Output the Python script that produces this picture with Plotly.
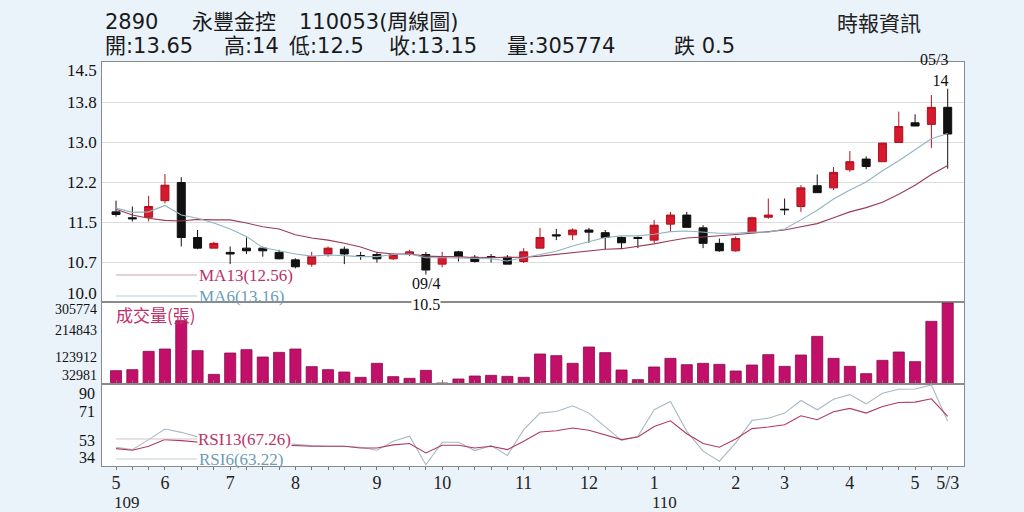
import plotly.graph_objects as go

# ---------------- data ----------------
weeks = list(range(52))
opens = [11.69, 11.58, 11.59, 11.90, 12.24, 11.21, 11.01, 10.93, 11.01, 11.01,
         10.93, 10.79, 10.71, 10.90, 10.99, 10.87, 10.89, 10.81, 10.89, 10.89,
         10.71, 10.94, 10.84, 10.85, 10.84, 10.76, 11.01, 11.26, 11.26, 11.35,
         11.30, 11.21, 11.21, 11.16, 11.46, 11.63, 11.39, 11.10, 10.96, 11.31,
         11.59, 11.74, 11.79, 12.18, 12.14, 12.48, 12.68, 12.63, 12.99, 13.36,
         13.33, 13.65]
highs = [11.90, 11.79, 11.99, 12.40, 12.34, 11.35, 11.13, 11.04, 11.21, 11.04,
         10.98, 10.82, 10.94, 11.04, 11.04, 10.94, 10.94, 10.91, 10.98, 10.94,
         10.94, 10.96, 10.88, 10.90, 10.88, 11.01, 11.39, 11.37, 11.38, 11.39,
         11.35, 11.23, 11.23, 11.54, 11.69, 11.69, 11.44, 11.19, 11.23, 11.60,
         11.94, 11.94, 12.19, 12.39, 12.53, 12.83, 12.73, 12.98, 13.57, 13.52,
         13.88, 14.00]
lows = [11.60, 11.51, 11.51, 11.85, 11.04, 10.99, 11.01, 10.71, 10.90, 10.85,
        10.80, 10.63, 10.66, 10.85, 10.71, 10.79, 10.74, 10.79, 10.86, 10.50,
        10.65, 10.76, 10.74, 10.74, 10.71, 10.73, 11.01, 11.16, 11.16, 11.11,
        10.99, 10.99, 11.01, 11.10, 11.32, 11.40, 11.01, 10.94, 10.94, 11.31,
        11.56, 11.63, 11.69, 12.05, 12.10, 12.44, 12.49, 12.63, 12.99, 13.30,
        12.89, 12.50]
closes = [11.64, 11.56, 11.79, 12.19, 11.21, 11.01, 11.10, 10.90, 10.96, 10.96,
          10.81, 10.66, 10.85, 11.01, 10.90, 10.86, 10.81, 10.89, 10.94, 10.60,
          10.85, 10.85, 10.76, 10.84, 10.71, 10.94, 11.21, 11.24, 11.35, 11.31,
          11.21, 11.11, 11.19, 11.44, 11.63, 11.40, 11.10, 10.96, 11.19, 11.58,
          11.63, 11.73, 12.14, 12.05, 12.43, 12.63, 12.54, 12.98, 13.29, 13.30,
          13.65, 13.15]
ma6 = [11.76, 11.68, 11.69, 11.81, 11.63, 11.57, 11.48, 11.37, 11.23, 11.02,
       10.96, 10.90, 10.86, 10.88, 10.87, 10.85, 10.85, 10.89, 10.90, 10.83,
       10.83, 10.82, 10.82, 10.81, 10.77, 10.83, 10.89, 10.95, 11.05, 11.13,
       11.21, 11.24, 11.24, 11.27, 11.32, 11.33, 11.31, 11.29, 11.29, 11.31,
       11.31, 11.37, 11.54, 11.72, 11.93, 12.10, 12.25, 12.46, 12.65, 12.86,
       13.06, 13.16]
ma13 = [11.74, 11.63, 11.57, 11.53, 11.52, 11.55, 11.54, 11.54, 11.48, 11.41,
        11.37, 11.26, 11.20, 11.16, 11.10, 11.03, 10.93, 10.90, 10.90, 10.86,
        10.85, 10.85, 10.83, 10.83, 10.84, 10.84, 10.86, 10.89, 10.92, 10.96,
        10.99, 11.00, 11.04, 11.09, 11.15, 11.20, 11.22, 11.24, 11.26, 11.29,
        11.32, 11.35, 11.41, 11.47, 11.58, 11.69, 11.77, 11.87, 12.02, 12.19,
        12.39, 12.56]
volume = [50300, 54100, 123300, 132100, 239000, 125800, 36500, 117000, 129600, 101900,
          119500, 132100, 65400, 54100, 45300, 25200, 78000, 27700, 21400, 51600,
          3800, 18900, 30200, 32700, 28900, 25200, 113200, 106900, 78000, 139600,
          118300, 52800, 16400, 64200, 96900, 73000, 78000, 74200, 49100, 71700,
          110700, 66700, 109400, 179900, 96900, 66700, 39000, 89300, 120800, 84300,
          236500, 305774]
rsi6 = [42.2, 40.3, 48.4, 57.0, 54.3, 50.5, 47.0, 45.7, 45.2, 44.4,
        45.7, 44.4, 43.5, 43.0, 43.0, 42.2, 39.8, 47.0, 51.1, 28.0,
        46.2, 46.2, 39.5, 43.5, 35.5, 56.5, 69.9, 71.2, 75.8, 69.9,
        59.1, 47.8, 51.1, 72.6, 79.3, 55.1, 39.0, 30.9, 45.7, 64.0,
        65.8, 69.9, 80.1, 72.6, 81.2, 84.9, 77.4, 86.0, 89.2, 89.5,
        92.7, 63.22]
rsi13 = [41.1, 39.8, 43.0, 48.4, 47.6, 46.2, 45.2, 44.4, 44.1, 43.5,
         44.1, 43.5, 43.0, 43.0, 43.0, 41.6, 41.6, 44.1, 45.2, 37.6,
         43.8, 43.8, 41.6, 43.0, 40.3, 47.0, 54.6, 55.6, 57.8, 56.0,
         52.4, 48.4, 50.5, 59.1, 63.7, 53.2, 45.2, 42.2, 48.9, 57.3,
         58.6, 60.5, 67.7, 64.5, 71.0, 73.7, 69.9, 75.3, 78.5, 78.8,
         81.5, 67.26]

x_tick_pos = [0, 3, 7, 11, 16, 20, 25, 29, 33, 38, 41, 45, 49, 51]
x_tick_text = ['5', '6', '7', '8', '9', '10', '11', '12', '1', '2', '3', '4', '5', '5/3']
year_pos = [0, 33]
year_text = ['109', '110']
price_ticks = [10.0, 10.75, 11.5, 12.25, 13.0, 13.75, 14.5]
price_tick_text = ['10.0', '10.7', '11.5', '12.2', '13.0', '13.8', '14.5']
vol_ticks = [32981, 123912, 214843, 305774]
vol_tick_text = ['32981', '123912', '214843', '305774']
rsi_ticks = [34, 52.67, 71.33, 90]
rsi_tick_text = ['34', '53', '71', '90']

head1 = ['2890', '永豐金控', '110053(周線圖)']
head2 = ['開:13.65', '高:14', '低:12.5', '收:13.15', '量:305774', '跌 0.5']
source_text = '時報資訊'
low_date, high_date = '09/4', '05/3'

# ---------------- layout helpers ----------------
W, H = 1024, 512
L, R, T, B = 102, 60, 62, 46
PW, PH = W - L - R, H - T - B


def py(px):
    return (H - B - px) / PH


def pxx(px):
    return (px - L) / PW


SERIF = 'Liberation Serif, Times New Roman, serif'
SANS = 'DejaVu Sans, Noto Sans CJK TC, sans-serif'
CJK = 'Noto Sans CJK TC, sans-serif'

fig = go.Figure()

fig.add_trace(go.Candlestick(
    x=weeks, open=opens, high=highs, low=lows, close=closes,
    increasing=dict(line=dict(color='#b3101f', width=1), fillcolor='#d41a2c'),
    decreasing=dict(line=dict(color='#111111', width=1), fillcolor='#111111'),
    whiskerwidth=0, xaxis='x', yaxis='y', showlegend=False, name='K'))
fig.add_trace(go.Scatter(x=weeks, y=ma13, mode='lines', line=dict(color='#9a3b55', width=1.1),
                         xaxis='x', yaxis='y', showlegend=False, name='MA13'))
fig.add_trace(go.Scatter(x=weeks, y=ma6, mode='lines', line=dict(color='#8fb3c3', width=1.1),
                         xaxis='x', yaxis='y', showlegend=False, name='MA6'))
fig.add_trace(go.Bar(x=weeks, y=volume, width=0.68,
                     marker=dict(color='#c2106a', line=dict(color='#8a0a4a', width=0.8)),
                     xaxis='x', yaxis='y2', showlegend=False, name='vol'))
fig.add_trace(go.Scatter(x=weeks, y=rsi6, mode='lines', line=dict(color='#a9b9c4', width=1.1),
                         xaxis='x', yaxis='y3', showlegend=False, name='RSI6'))
fig.add_trace(go.Scatter(x=weeks, y=rsi13, mode='lines', line=dict(color='#b03a62', width=1.1),
                         xaxis='x', yaxis='y3', showlegend=False, name='RSI13'))

axline = '#8a8a8a'
fig.update_layout(
    width=W, height=H,
    margin=dict(l=L, r=R, t=T, b=B),
    paper_bgcolor='#eaf2fa', plot_bgcolor='#ffffff',
    showlegend=False,
    xaxis=dict(domain=[0, 1], anchor='y3', range=[-0.86, 52.0],
               tickmode='array', tickvals=x_tick_pos, ticktext=x_tick_text,
               ticks='', showgrid=False, zeroline=False,
               showline=True, linecolor=axline, linewidth=1, mirror='all',
               tickfont=dict(family=SERIF, size=18, color='#222'),
               minor=dict(tickmode='array', tickvals=weeks, ticks='outside', ticklen=3,
                          tickcolor='#777', showgrid=False),
               rangeslider=dict(visible=False)),
    yaxis=dict(domain=[py(302), 1], anchor='x', range=[10.0, 14.5],
               tickmode='array', tickvals=price_ticks, showticklabels=False, ticks='',
               showgrid=True, gridcolor='#dcdcdc', gridwidth=1, zeroline=False,
               showline=True, linecolor=axline, mirror=True),
    yaxis2=dict(domain=[py(384), py(302)], anchor='x', range=[0, 309500],
                tickmode='array', tickvals=vol_ticks, showticklabels=False, ticks='',
                showgrid=False, zeroline=False,
                showline=True, linecolor=axline, mirror=True),
    yaxis3=dict(domain=[0, py(384)], anchor='x', range=[27.0, 93.5],
                tickmode='array', tickvals=rsi_ticks, showticklabels=False, ticks='',
                showgrid=False, zeroline=False,
                showline=True, linecolor=axline, mirror=True),
)

ann = []
# y tick labels (text placed through each axis scale)
price_shift = [9, 0, 0, 0, 0, 0, -8]
for v, t, s in zip(price_ticks, price_tick_text, price_shift):
    ann.append(dict(x=0, xref='paper', xanchor='right', xshift=-3, y=v, yref='y',
                    yanchor='middle', yshift=s, text=t, showarrow=False,
                    font=dict(family=SERIF, size=17, color='#111')))
vol_shift = [0, -6, -3, -7]
for v, t, s in zip(vol_ticks, vol_tick_text, vol_shift):
    ann.append(dict(x=0, xref='paper', xanchor='right', xshift=-3, y=v, yref='y2',
                    yanchor='middle', yshift=s, text=t, showarrow=False,
                    font=dict(family=SERIF, size=14, color='#111')))
rsi_shift = [0, -6, 0, -5]
for v, t, s in zip(rsi_ticks, rsi_tick_text, rsi_shift):
    ann.append(dict(x=0, xref='paper', xanchor='right', xshift=-5, y=v, yref='y3',
                    yanchor='middle', yshift=s, text=t, showarrow=False,
                    font=dict(family=SERIF, size=16, color='#111')))
# year labels under the month ticks
for p, t in zip(year_pos, year_text):
    ann.append(dict(x=p, xref='x', xanchor='left', xshift=-4, y=py(502), yref='paper',
                    yanchor='middle', text=t, showarrow=False,
                    font=dict(family=SERIF, size=17, color='#222')))

# header
for t, px in zip(head1, [103, 190, 297]):
    ann.append(dict(x=pxx(px), xref='paper', xanchor='left', y=py(22), yref='paper',
                    yanchor='middle', text=t, showarrow=False,
                    font=dict(family=SANS, size=21, color='#1a1a1a')))
for t, px in zip(head2, [103, 222, 287, 387, 505, 672]):
    ann.append(dict(x=pxx(px), xref='paper', xanchor='left', y=py(46), yref='paper',
                    yanchor='middle', text=t, showarrow=False,
                    font=dict(family=SANS, size=21, color='#1a1a1a')))
ann.append(dict(x=pxx(835), xref='paper', xanchor='left', y=py(22), yref='paper',
                yanchor='middle', text=source_text, showarrow=False,
                font=dict(family=CJK, size=21, color='#222')))

# low / high markers
lo_i = lows.index(min(lows[10:30]))
ann.append(dict(x=lo_i, xref='x', y=lows[lo_i], yref='y', yanchor='top', yshift=1,
                text='%s<br>%g' % (low_date, lows[lo_i]), showarrow=False,
                bgcolor='#ffffff', borderpad=0,
                font=dict(family=SERIF, size=16, color='#111')))
ann.append(dict(x=51, xref='x', xanchor='right', xshift=2, y=highs[51], yref='y',
                yanchor='bottom', yshift=-2, align='right',
                text='%s<br>%g' % (high_date, highs[51]), showarrow=False,
                font=dict(family=SERIF, size=16, color='#111')))

# indicator captions with key lines
captions = [
    ('MA13(%.2f)' % ma13[-1], 275, '#b8336a', '#c9a3ae', False),
    ('MA6(%.2f)' % ma6[-1], 296, '#6d9cb8', '#b9cbd4', False),
    ('RSI13(%.2f)' % rsi13[-1], 439, '#b8336a', '#d3c3c8', True),
    ('RSI6(%.2f)' % rsi6[-1], 459, '#6d9cb8', '#c6d0d6', False),
]
shapes = []
for text, ypx, tcol, lcol, bg in captions:
    a = dict(x=pxx(197), xref='paper', xanchor='left', y=py(ypx), yref='paper',
             yanchor='middle', text=text, showarrow=False,
             font=dict(family=SERIF, size=17, color=tcol))
    if bg:
        a.update(bgcolor='#ffffff', borderpad=0)
    ann.append(a)
    shapes.append(dict(type='line', xref='paper', yref='paper', x0=pxx(116), x1=pxx(197),
                       y0=py(ypx), y1=py(ypx), line=dict(color=lcol, width=1.2)))
ann.append(dict(x=pxx(114), xref='paper', xanchor='left', y=py(314), yref='paper',
                yanchor='middle', text='成交量(張)', showarrow=False,
                font=dict(family=CJK, size=17, color='#c0306a')))

fig.update_layout(annotations=ann, shapes=shapes)
fig.write_html('out.html', config={'displayModeBar': False},
               post_script="document.body.style.margin='0';document.body.style.overflow='hidden';")
